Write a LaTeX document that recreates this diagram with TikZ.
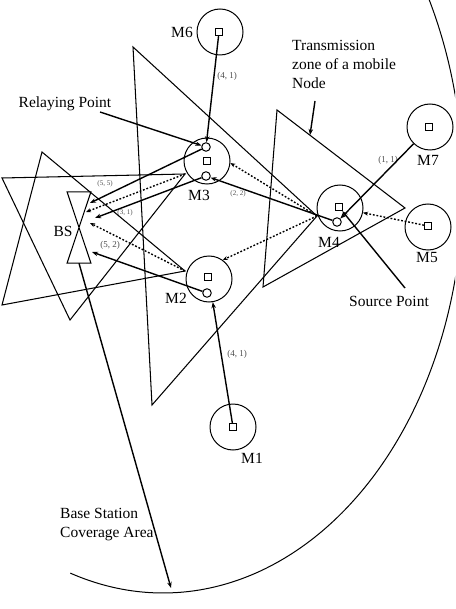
\documentclass[tikz,border=0pt]{standalone}
\usepackage{fontspec}
\setmainfont{Liberation Serif}
\usetikzlibrary{arrows.meta}
\begin{document}
\begin{tikzpicture}[x=1pt,y=-1pt,
  mob/.style={circle,draw,line width=1pt,minimum size=46pt,inner sep=0pt},
  sq/.style={rectangle,draw,line width=1pt,minimum size=7pt,inner sep=0pt},
  sc/.style={circle,draw,line width=1pt,minimum size=8.5pt,inner sep=0pt},
  lbl/.style={font=\fontsize{15.5}{19}\selectfont,inner sep=0pt},
  wt/.style={font=\fontsize{9}{10}\selectfont,text=black!70,inner sep=0pt},
  wts/.style={font=\fontsize{7}{8}\selectfont,text=black!70,inner sep=0pt},
  zone/.style={line width=1.05pt,line join=miter},
  arr/.style={line width=1.4pt,-{Stealth[length=6pt,width=4.5pt]}},
  darr/.style={line width=1.4pt,dash pattern=on 1.8pt off 1.8pt,-{Stealth[length=5pt,width=4pt]}},
]
\useasboundingbox (0,0) rectangle (455,609);

% base station coverage boundary
\begin{scope}
\clip (0,0) rectangle (455,609);
\draw[line width=1pt] plot[domain=-30:108,samples=150] ({163+300*cos(\x)},{187+406*sin(\x)});
\end{scope}

% mobile nodes
\node[mob] (m6) at (220,32) {};  \node[sq] (m6s) at (219,32) {};
\node[mob] (m3) at (207,161) {}; \node[sc] (m3a) at (206,147) {};
\node[sq] (m3s) at (207,161) {};  \node[sc] (m3b) at (206,176) {};
\node[mob] (m2) at (209,279) {}; \node[sq] (m2s) at (208,277) {};
\node[sc] (m2b) at (207,293) {};
\node[mob] (m4) at (340,208) {}; \node[sq] (m4s) at (339,207) {};
\node[sc] (m4b) at (337,222) {};
\node[mob] (m5) at (428,227) {}; \node[sq] (m5s) at (428,226) {};
\node[mob] (m7) at (430,127) {}; \node[sq] (m7s) at (429,127) {};
\node[mob] (m1) at (233,427) {}; \node[sq] (m1s) at (233,427) {};

% base station
\node[minimum width=23.5pt,minimum height=71pt,inner sep=0pt] (bs) at (79,227.5) {};
\draw[zone] (bs.north west) -- (bs.north east) -- (bs.south west) -- (bs.south east) -- cycle;

% labels
\node[lbl] (l6) at (182,32) {M6};
\node[lbl] (l3) at (199,195) {M3};
\node[lbl] (l2) at (176,298) {M2};
\node[lbl] (l4) at (329,242) {M4};
\node[lbl] (l5) at (427,258) {M5};
\node[lbl] (l7) at (428,160) {M7};
\node[lbl] (l1) at (252,458) {M1};
\node[lbl] (lbs) at (63,231) {BS};

% coordinates
\coordinate (bs1) at (90,203);
\coordinate (bs2) at (86,212);
\coordinate (bs3) at (95,218);
\coordinate (bs4) at (90,223);
\coordinate (bs5) at (92,252);
\coordinate (v2) at (185,271);
\coordinate (v3) at (185,174);
\coordinate (v4) at (317,216);
\coordinate (rp) at (100,112);
\coordinate (sp) at (405,288);
\coordinate (tzs) at (315,101);
\coordinate (tzt) at (310,135);
\coordinate (cov) at (171,588);

% transmission zones
\draw[zone] (42,152) -- (2,305) -- (v2) -- cycle;
\draw[zone] (2,178) -- (70,320) -- (v3) -- cycle;
\draw[zone] (133,47) -- (152,405) -- (v4) -- cycle;
\draw[zone] (277,110) -- (263,287) -- (405,208) -- cycle;

% texts
\node[lbl,align=left,anchor=north west] (tz) at (292,40) {Transmission\\zone of a mobile\\Node};
\node[lbl] (rpt) at (65,104) {Relaying Point};
\node[lbl] (spt) at (389,301) {Source Point};
\node[lbl,align=left,anchor=west] (cvt) at (60,525) {Base Station\\Coverage Area};

% weights
\node[wt] (w1) at (227,76) {(4, 1)};
\node[wts] (w2) at (105,184) {(5, 5)};
\node[wts] (w3) at (125,213) {(3, 1)};
\node[wt] (w4) at (110,245) {(5, 2)};
\node[wts] (w5) at (238,194) {(2, 2)};
\node[wt] (w6) at (388,160) {(1, 1)};
\node[wt] (w7) at (237,354) {(4, 1)};

% solid arrows
\draw[arr] (rp) -- (m3a);
\draw[arr] (m6s) -- (m3a);
\draw[arr] (m3a) -- (bs1);
\draw[arr] (m3b) -- (bs3);
\draw[arr] (m2b) -- (bs5);
\draw[arr] (m4b) -- (m3b);
\draw[arr] (m1s) -- (m2);
\draw[arr] (m7) -- (m4b);
\draw[arr] (sp) -- (m4s);
\draw[arr] (tzs) -- (tzt);
\draw[arr] (bs.south) -- (cov);

% dotted arrows
\draw[darr] (v4) -- (m3.-5);
\draw[darr] (v4) -- (m2.54);
\draw[darr] (m5s) -- (m4);
\draw[darr] (v3) -- (bs2);
\draw[darr] (v2) -- (bs4);
\end{tikzpicture}
\end{document}
